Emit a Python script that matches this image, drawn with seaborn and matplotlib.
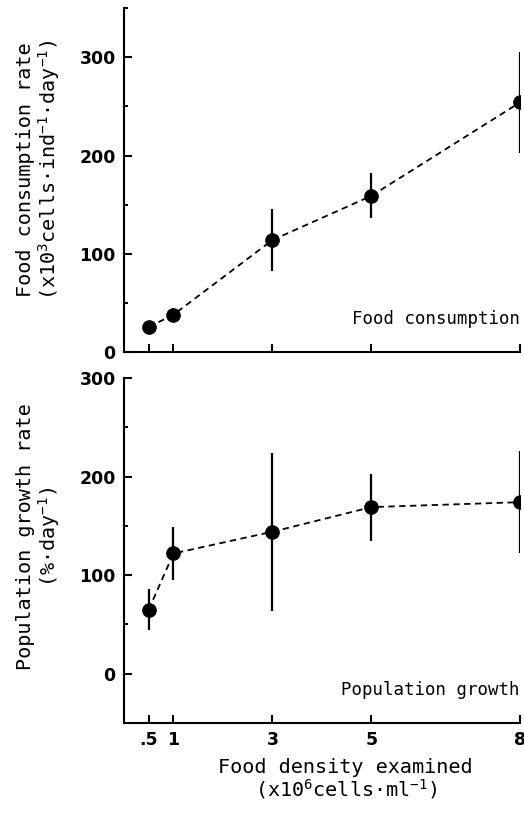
import numpy as np
import pandas as pd
import matplotlib
matplotlib.use("Agg")
import matplotlib.pyplot as plt
import seaborn as sns

# food density examined (x10^6 cells/ml)
density = [0.5, 1, 3, 5, 8]
density_labels = [".5", "1", "3", "5", "8"]

# food consumption rate (x10^3 cells/ind/day), mean and error
consumption = [25.5, 38, 114, 159, 254]
consumption_err = [4, 7, 32, 23, 51]

# population growth rate (%/day), mean and error
growth = [65, 122, 144, 169, 174]
growth_err = [21, 27, 80, 34, 52]

sns.set_style("ticks")
plt.rcParams["mathtext.fontset"] = "custom"
plt.rcParams["mathtext.rm"] = "DejaVu Sans Mono"
plt.rcParams["mathtext.it"] = "DejaVu Sans Mono"
plt.rcParams["mathtext.bf"] = "DejaVu Sans Mono"
for k in ["text.color", "axes.labelcolor", "xtick.color", "ytick.color",
          "axes.edgecolor"]:
    plt.rcParams[k] = "black"

mono = "DejaVu Sans Mono"

fig = plt.figure(figsize=(5.24, 8.13), dpi=100)
ax1 = fig.add_axes([0.2366, 0.567, 0.7557, 0.423])
ax2 = fig.add_axes([0.2366, 0.1107, 0.7557, 0.4244])

def panel(ax, y, err, ylim, yticks, minor, label, inset):
    df = pd.DataFrame({"x": density, "y": y})
    sns.lineplot(data=df, x="x", y="y", ax=ax, color="black", lw=1.3,
                 linestyle=(0, (3.5, 2.5)), zorder=2)
    ax.errorbar(density, y, yerr=err, fmt="none", ecolor="black",
                elinewidth=1.6, capsize=0, zorder=2)
    sns.scatterplot(data=df, x="x", y="y", ax=ax, color="black",
                    edgecolor="black", s=95, zorder=3)
    ax.set_xlim(0, 8)
    ax.set_ylim(*ylim)
    ax.set_yticks(yticks)
    ax.set_yticks(minor, minor=True)
    ax.set_xticks(density)
    for s in ["top", "right"]:
        ax.spines[s].set_visible(False)
    for s in ["left", "bottom"]:
        ax.spines[s].set_linewidth(1.5)
    ax.tick_params(axis="both", which="major", direction="in", length=6,
                   width=1.5, pad=6, labelsize=12.5)
    ax.tick_params(axis="y", which="minor", direction="in", length=3, width=1.5)
    for t in ax.get_yticklabels():
        t.set_fontweight("bold")
    ax.set_xlabel("")
    ax.set_ylabel(label, fontfamily=mono, fontsize=14.5, va="center",
                  linespacing=1.05)
    ax.text(1.0, 0.097, inset, transform=ax.transAxes, ha="right",
            va="center", fontfamily=mono, fontsize=12.5)

panel(ax1, consumption, consumption_err, (0, 350), [0, 100, 200, 300],
      [50, 150, 250, 350], "Food consumption rate\n"
      r"(x10$^3$cells$\cdot$ind$^{-1}$$\cdot$day$^{-1}$)", "Food consumption")
panel(ax2, growth, growth_err, (-50, 300), [0, 100, 200, 300],
      [50, 150, 250], "Population growth rate\n"
      r"(%$\cdot$day$^{-1}$)", "Population growth")

ax1.yaxis.set_label_coords(-0.215, 0.53)
ax2.yaxis.set_label_coords(-0.215, 0.54)

ax1.set_xticklabels([])
ax2.set_xticklabels(density_labels, fontweight="bold")
ax2.set_xlabel("Food density examined\n"
               r"(x10$^6$cells$\cdot$ml$^{-1}$)",
               fontfamily=mono, fontsize=14.5, linespacing=1.05)
ax2.xaxis.set_label_coords(0.56, -0.1)

fig.savefig("out.png", dpi=100)
